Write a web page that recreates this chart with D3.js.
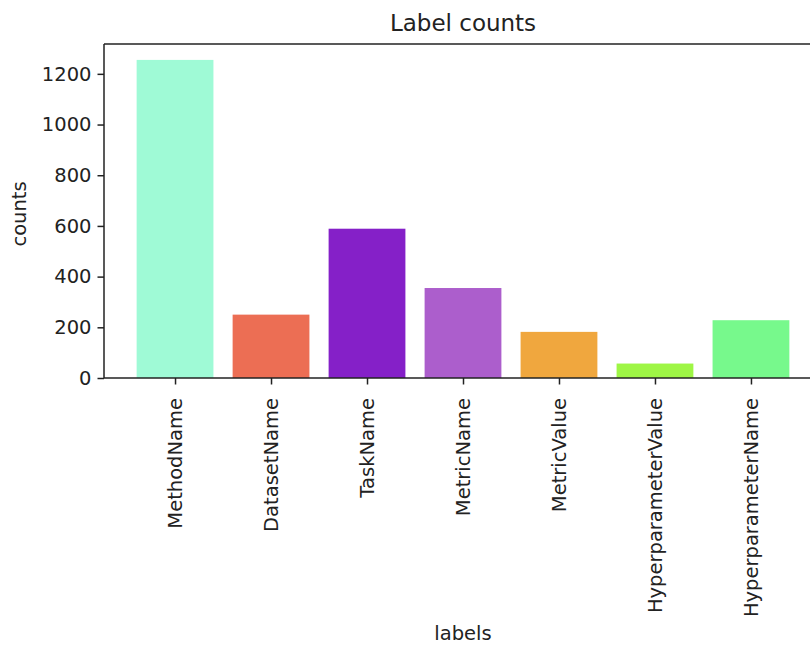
<!DOCTYPE html>
<html>
<head>
	<title>Label counts</title>
	<script src="https://d3js.org/d3.v7.min.js"></script>
	<style>
		body { margin: 0; background: #fff; overflow: hidden; }
		svg { display: block; }
		text { font-family: "DejaVu Sans", sans-serif; fill: #222; }
	</style>
</head>
<body>
	<script>
		// chart data
		var labels = ["MethodName", "DatasetName", "TaskName", "MetricName", "MetricValue", "HyperparameterValue", "HyperparameterName"];
		var counts = [1255, 250, 589, 355, 182, 57, 228];
		var colors = ["#9ffad6", "#ec6e54", "#8520c8", "#ac5ecc", "#f0a73e", "#9ef645", "#77f98c"];
		var yTicks = [0, 200, 400, 600, 800, 1000, 1200];

		var data = labels.map(function(d, i) { return {label: d, count: counts[i], color: colors[i]}; });

		// plot area (right side runs past the window, like the cropped original)
		var margin = {top: 44, right: 0, bottom: 267, left: 104},
		    width = 718,
		    height = 645 - margin.top - margin.bottom;

		var svg = d3.select("body")
		  .append("svg")
		    .attr("width", 810)
		    .attr("height", 645);

		var g = svg.append("g")
		    .attr("transform", "translate(" + margin.left + "," + margin.top + ")");

		// x: linear index scale with matplotlib-like margins (bar width 0.8, 5% padding)
		var x = d3.scaleLinear().domain([-0.74, labels.length - 1 + 0.74]).range([0, width]);
		var y = d3.scaleLinear().domain([0, d3.max(counts) * 1.05]).range([height, 0]);

		// bars
		g.selectAll("rect")
		    .data(data)
		    .enter()
		    .append("rect")
		      .attr("x", function(d, i) { return x(i - 0.4); })
		      .attr("y", function(d) { return y(d.count); })
		      .attr("width", x(0.4) - x(-0.4))
		      .attr("height", function(d) { return height - y(d.count); })
		      .attr("fill", function(d) { return d.color; });

		// axes
		var xAxis = g.append("g")
		    .attr("transform", "translate(0," + height + ")")
		    .call(d3.axisBottom(x).tickValues(d3.range(labels.length)).tickSize(6.5).tickPadding(6)
		      .tickFormat(function(i) { return labels[i]; }));
		xAxis.selectAll("text")
		    .attr("font-size", 19.5)
		    .attr("text-anchor", "end")
		    .attr("transform", "rotate(-90)")
		    .attr("x", -20)
		    .attr("y", 0)
		    .attr("dy", "0.35em");

		var yAxis = g.append("g")
		    .call(d3.axisLeft(y).tickValues(yTicks).tickSize(6.5).tickPadding(6).tickFormat(d3.format("d")));
		yAxis.selectAll("text").attr("font-size", 19.5);

		svg.selectAll(".domain").remove();
		svg.selectAll(".tick line").attr("stroke", "#222").attr("stroke-width", 1.5);
		svg.selectAll(".tick text").attr("font-family", "DejaVu Sans").attr("fill", "#222");

		// spines (right one falls outside the window)
		g.append("line").attr("x1", 0).attr("x2", width).attr("y1", 0).attr("y2", 0)
		    .attr("stroke", "#222").attr("stroke-width", 1.5);
		g.append("line").attr("x1", 0).attr("x2", width).attr("y1", height).attr("y2", height)
		    .attr("stroke", "#222").attr("stroke-width", 1.5);
		g.append("line").attr("x1", 0).attr("x2", 0).attr("y1", 0).attr("y2", height)
		    .attr("stroke", "#222").attr("stroke-width", 1.5);

		// title and axis labels
		svg.append("text")
		    .attr("x", margin.left + width / 2)
		    .attr("y", 31)
		    .attr("text-anchor", "middle")
		    .attr("font-size", 23)
		    .text("Label counts");

		svg.append("text")
		    .attr("x", margin.left + width / 2)
		    .attr("y", 640)
		    .attr("text-anchor", "middle")
		    .attr("font-size", 19.5)
		    .text("labels");

		svg.append("text")
		    .attr("transform", "rotate(-90)")
		    .attr("x", -214)
		    .attr("y", 26)
		    .attr("text-anchor", "middle")
		    .attr("font-size", 19.5)
		    .text("counts");
	</script>
</body>
</html>
